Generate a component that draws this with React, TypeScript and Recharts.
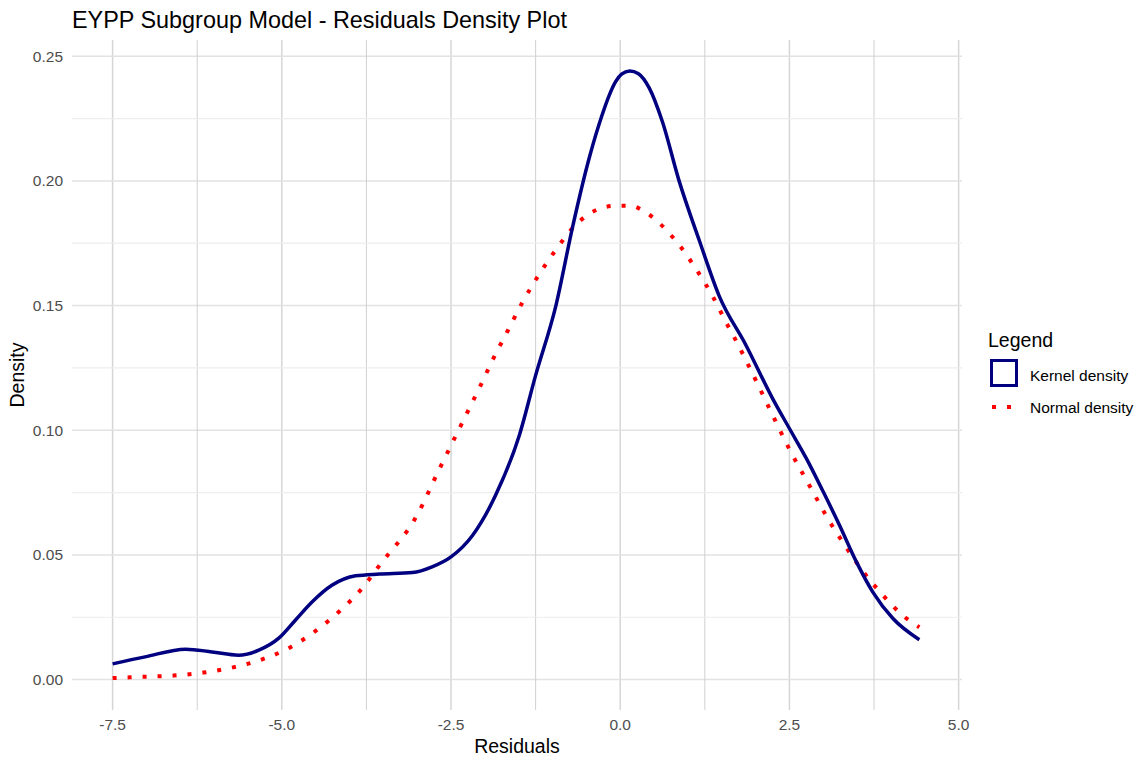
import { CartesianGrid, Label, Line, LineChart, ReferenceLine, XAxis, YAxis } from 'recharts';

const FONT = '"Liberation Sans", Arial, sans-serif';

// kernel density of the residuals
const kernelX = [
  -7.5, -7.02, -6.42, -6.03, -5.64, -5.34, -5.04, -4.8, -4.55, -4.26, -3.91, -3.56, -3.07, -2.78, -2.5,
  -2.18, -1.84, -1.49, -1.25, -0.95, -0.7, -0.46, -0.27, -0.17, -0.07, 0.02, 0.14, 0.27, 0.43, 0.62, 0.87,
  1.17, 1.46, 1.86, 2.25, 2.5, 2.75, 3.0, 3.24, 3.49, 3.73, 4.03, 4.42,
];
const kernelY = [
  0.0063, 0.0091, 0.0122, 0.0111, 0.0098, 0.0118, 0.0167, 0.0238, 0.0312, 0.0378, 0.0416, 0.0423, 0.0429,
  0.0452, 0.0492, 0.0579, 0.074, 0.098, 0.122, 0.15, 0.182, 0.209, 0.2262, 0.2338, 0.2397, 0.2428, 0.2441,
  0.243, 0.2372, 0.224, 0.2, 0.176, 0.154, 0.134, 0.1128, 0.1007, 0.0887, 0.0753, 0.0619, 0.0472, 0.0352,
  0.0245, 0.016,
];

// fitted normal density
const normalX = [
  -7.5, -7.06, -6.6, -6.16, -5.72, -5.29, -4.87, -4.49, -4.14, -3.82, -3.54, -3.0, -2.68, -2.48, -2.28,
  -2.08, -1.87, -1.66, -1.45, -1.21, -0.96, -0.67, -0.29, -0.07, 0.15, 0.36, 0.54, 0.85, 1.12, 1.36,
  1.57, 1.68, 1.95, 2.2, 2.5, 2.84, 3.06, 3.31, 3.57, 3.86, 4.18, 4.42,
];
const normalY = [
  0.0006, 0.0011, 0.0016, 0.0028, 0.0049, 0.0081, 0.013, 0.0197, 0.0276, 0.0364, 0.0464, 0.066, 0.084,
  0.095, 0.106, 0.117, 0.129, 0.14, 0.151, 0.162, 0.172, 0.182, 0.189, 0.19, 0.19, 0.1877, 0.184, 0.175,
  0.1647, 0.154, 0.143, 0.1375, 0.123, 0.109, 0.0924, 0.0757, 0.0649, 0.0542, 0.044, 0.0345, 0.0256, 0.021,
];

const xTicks = [-7.5, -5, -2.5, 0, 2.5, 5];
const yTicks = [0, 0.05, 0.1, 0.15, 0.2, 0.25];
const xMinor = [-6.25, -3.75, -1.25, 1.25, 3.75];
const yMinor = [0.025, 0.075, 0.125, 0.175, 0.225];

const kernelData = kernelX.map((x, i) => ({ x, y: kernelY[i] }));
const normalData = normalX.map((x, i) => ({ x, y: normalY[i] }));

const tickStyle = { fill: '#4d4d4d', fontSize: 15.5, fontFamily: FONT };

export default function App() {
  return (
    <div style={{ position: 'absolute', left: 0, top: 0, width: 1138, height: 762, background: '#fff' }}>
      <LineChart width={1138} height={762} margin={{ top: 40, right: 176, left: 0, bottom: 0 }}>
        <CartesianGrid horizontal={false} syncWithTicks stroke="#d6d6d6" strokeWidth={1.5} />
        <CartesianGrid vertical={false} syncWithTicks stroke="#e2e2e2" strokeWidth={1.5} />
        {xMinor.map((v) => (
          <ReferenceLine key={'vx' + v} x={v} stroke="#d0d0d0" strokeWidth={1} />
        ))}
        {yMinor.map((v) => (
          <ReferenceLine key={'hy' + v} y={v} stroke="#ededed" strokeWidth={1.2} />
        ))}
        <XAxis
          type="number"
          dataKey="x"
          domain={[-8.1, 5.05]}
          ticks={xTicks}
          tickFormatter={(v: number) => v.toFixed(1)}
          axisLine={false}
          tickLine={false}
          tickSize={0}
          tickMargin={9}
          height={52}
          tick={tickStyle}
        >
          <Label value="Residuals" position="insideBottom" offset={9} fill="#000" fontSize={19.5} fontFamily={FONT} />
        </XAxis>
        <YAxis
          type="number"
          domain={[-0.0122, 0.2565]}
          ticks={yTicks}
          tickFormatter={(v: number) => v.toFixed(2)}
          axisLine={false}
          tickLine={false}
          tickSize={0}
          tickMargin={9}
          width={72}
          tick={tickStyle}
        />
        <Line
          data={normalData}
          dataKey="y"
          type="monotone"
          stroke="#ff0000"
          strokeWidth={4}
          strokeDasharray="4 11"
          dot={false}
          isAnimationActive={false}
        />
        <Line
          data={kernelData}
          dataKey="y"
          type="monotone"
          stroke="#000080"
          strokeWidth={3.5}
          dot={false}
          isAnimationActive={false}
        />
      </LineChart>
      <svg width={1138} height={762} style={{ position: 'absolute', left: 0, top: 0, pointerEvents: 'none' }}>
        <text x={72} y={28} fontSize={23.4} fontFamily={FONT} fill="#000">
          EYPP Subgroup Model - Residuals Density Plot
        </text>
        <text x={24} y={375} fontSize={19.5} fontFamily={FONT} fill="#000" textAnchor="middle" transform="rotate(-90 24 375)">
          Density
        </text>
        <text x={988} y={347} fontSize={19.5} fontFamily={FONT} fill="#000">
          Legend
        </text>
        <rect x={991.5} y={360.5} width={25} height={25} fill="none" stroke="#000080" strokeWidth={3} />
        <text x={1030} y={380.5} fontSize={15.5} fontFamily={FONT} fill="#000">
          Kernel density
        </text>
        <line x1={992} y1={407} x2={1016} y2={407} stroke="#ff0000" strokeWidth={4} strokeDasharray="4 11" />
        <text x={1030} y={412.5} fontSize={15.5} fontFamily={FONT} fill="#000">
          Normal density
        </text>
      </svg>
    </div>
  );
}
